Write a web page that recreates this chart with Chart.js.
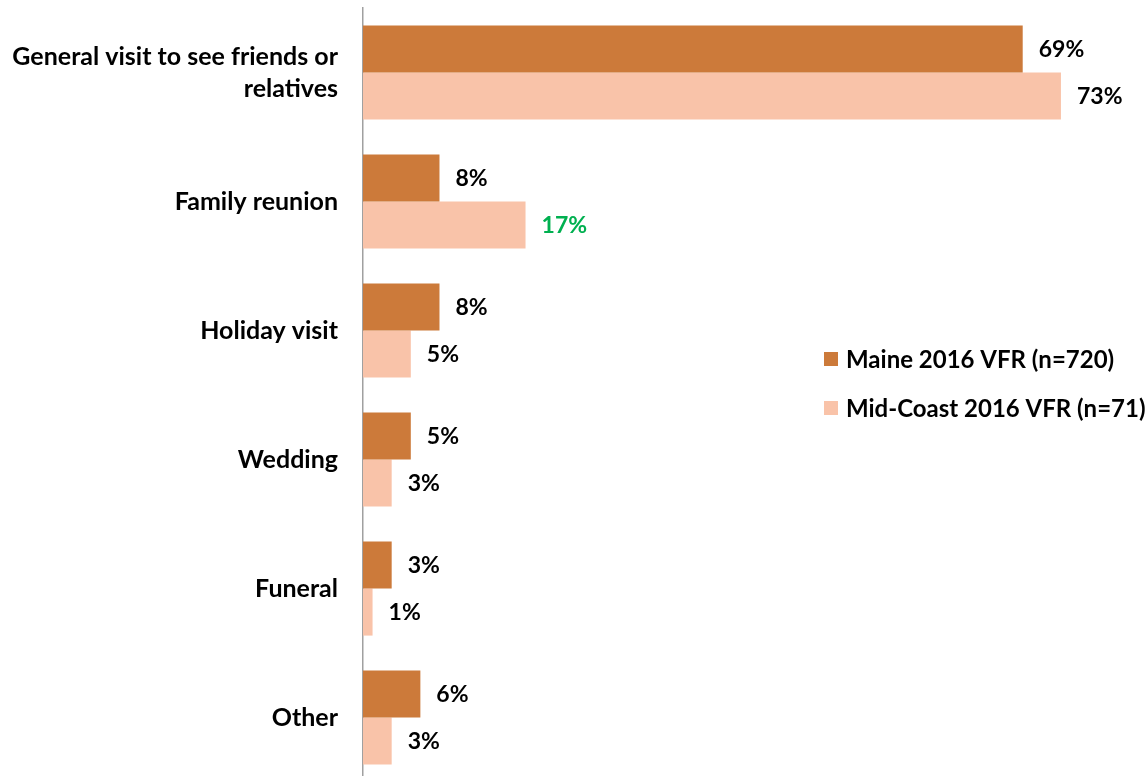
<!DOCTYPE html>
<html>
<head>
<meta charset="utf-8">
<title>VFR trip purpose</title>
<script src="https://cdn.jsdelivr.net/npm/chart.js@4.4.1/dist/chart.umd.min.js"></script>
<style>
    html, body { margin: 0; padding: 0; background: #fff; overflow: hidden; }
    #chart { display: block; }
</style>
</head>
<body>
<canvas id="chart" width="1147" height="782"></canvas>
<script>
// Trip purpose categories (multi-line labels as arrays)
const categories = [
    ['General visit to see friends or', 'relatives'],
    'Family reunion',
    'Holiday visit',
    'Wedding',
    'Funeral',
    'Other'
];
const seriesNames = ['Maine 2016 VFR (n=720)', 'Mid-Coast 2016 VFR (n=71)'];
const maineValues = [69, 8, 8, 5, 3, 6];
const midCoastValues = [73, 17, 5, 3, 1, 3];

const FONT = 'Lato, "Open Sans", sans-serif';
const MAINE_COLOR = '#CC7A3A';
const MIDCOAST_COLOR = '#F9C3A9';

// Percent labels at the end of each bar
const valueLabels = {
    id: 'valueLabels',
    afterDatasetsDraw(chart) {
        const ctx = chart.ctx;
        ctx.save();
        ctx.font = 'bold 23px ' + FONT;
        ctx.textAlign = 'left';
        ctx.textBaseline = 'middle';
        chart.data.datasets.forEach((ds, di) => {
            chart.getDatasetMeta(di).data.forEach((bar, i) => {
                // Mid-Coast family reunion figure is called out in green
                ctx.fillStyle = (di === 1 && i === 1) ? '#00B050' : '#000';
                ctx.fillText(ds.data[i] + '%', bar.x + 16, bar.y + 1);
            });
        });
        ctx.restore();
    }
};

// Legend drawn inside the plot area, right side
const insideLegend = {
    id: 'insideLegend',
    afterDraw(chart) {
        const ctx = chart.ctx;
        const x = 824;
        let y = 359;
        ctx.save();
        ctx.font = 'bold 24px ' + FONT;
        ctx.textAlign = 'left';
        ctx.textBaseline = 'middle';
        chart.data.datasets.forEach(ds => {
            ctx.fillStyle = ds.backgroundColor;
            ctx.fillRect(x, y - 7, 14, 14);
            ctx.fillStyle = '#000';
            ctx.fillText(ds.label, x + 22, y + 1);
            y += 49;
        });
        ctx.restore();
    }
};

new Chart(document.getElementById('chart'), {
    type: 'bar',
    data: {
        labels: categories,
        datasets: [
            {
                label: seriesNames[0],
                data: maineValues,
                backgroundColor: MAINE_COLOR,
                categoryPercentage: 0.73,
                barPercentage: 1.0
            },
            {
                label: seriesNames[1],
                data: midCoastValues,
                backgroundColor: MIDCOAST_COLOR,
                categoryPercentage: 0.73,
                barPercentage: 1.0
            }
        ]
    },
    options: {
        indexAxis: 'y',
        responsive: false,
        animation: false,
        layout: { padding: { top: 8, left: 0, right: 0, bottom: 0 } },
        scales: {
            x: {
                display: false,
                min: 0,
                max: 82
            },
            y: {
                afterFit(scale) {
                    scale.width = 363;
                    // keep the plot running the full canvas height
                    scale.paddingTop = 0;
                    scale.paddingBottom = 0;
                },
                grid: { display: false, drawTicks: false },
                border: { display: true, color: '#A0A0A0', width: 1.5 },
                ticks: {
                    color: '#000',
                    padding: 25,
                    font: { family: FONT, size: 25, weight: 'bold', lineHeight: 1.28 }
                }
            }
        },
        plugins: {
            legend: { display: false },
            tooltip: { enabled: false }
        }
    },
    plugins: [valueLabels, insideLegend]
});
</script>
</body>
</html>
